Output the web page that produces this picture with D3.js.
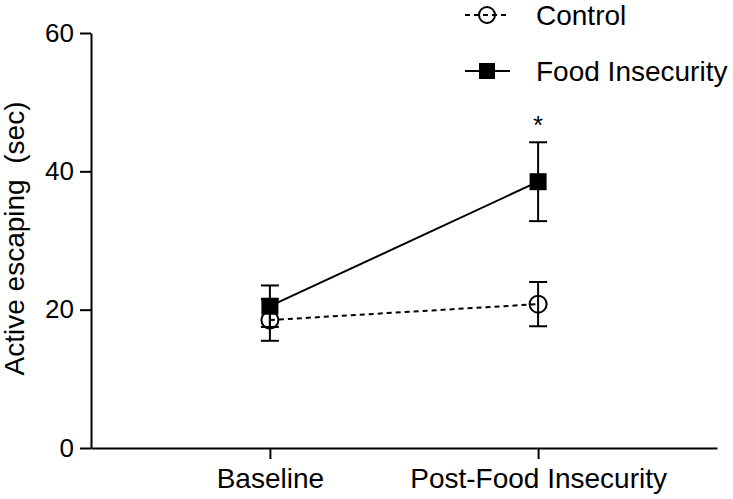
<!DOCTYPE html>
<html>
<head>
<meta charset="utf-8">
<script src="https://cdn.jsdelivr.net/npm/d3@7/dist/d3.min.js"></script>
<style>
  html, body { margin: 0; padding: 0; background: #fff; }
  svg { display: block; font-family: "Liberation Sans", Arial, sans-serif; }
</style>
</head>
<body>
<script>
const categories = ["Baseline", "Post-Food Insecurity"];
const controlMean = [18.5, 20.8];
const controlSEM = [3.0, 3.2];
const foodMean = [20.5, 38.5];
const foodSEM = [3.0, 5.7];
const yTicks = [0, 20, 40, 60];
const seriesNames = ["Control", "Food Insecurity"];
const significance = ["", "*"];

(function () {
const W = 733, H = 499;
const mLeft = 91, mRight = 717, mTop = 33, mBottom = 448;

const svg = d3.select("body").append("svg").attr("width", W).attr("height", H);

const x = d3.scalePoint().domain(categories).range([mLeft, mRight]).padding(0.667);
const y = d3.scaleLinear().domain([0, 60]).range([mBottom, mTop]);

// Y axis
const yAxis = svg.append("g").attr("transform", `translate(${mLeft},0)`)
  .call(d3.axisLeft(y).tickValues(yTicks).tickSize(11).tickSizeOuter(0).tickPadding(6));
yAxis.select(".domain").attr("stroke", "#000").attr("stroke-width", 2);
yAxis.selectAll(".tick line").attr("stroke", "#000").attr("stroke-width", 2);
yAxis.selectAll(".tick text").attr("font-size", 26).attr("fill", "#000")
  .attr("font-family", "Liberation Sans, Arial, sans-serif");

// X axis
const xAxis = svg.append("g").attr("transform", `translate(0,${mBottom})`)
  .call(d3.axisBottom(x).tickSize(11).tickSizeOuter(0).tickPadding(9));
xAxis.select(".domain").attr("stroke", "#000").attr("stroke-width", 2);
xAxis.selectAll(".tick line").attr("stroke", "#000").attr("stroke-width", 2);
xAxis.selectAll(".tick text").attr("font-size", 28).attr("fill", "#000")
  .attr("font-family", "Liberation Sans, Arial, sans-serif");

// Y title
svg.append("text")
  .attr("transform", `translate(24,${(mTop + mBottom) / 2 - 2}) rotate(-90)`)
  .attr("text-anchor", "middle")
  .attr("font-size", 28)
  .style("white-space", "pre")
  .text("Active escaping  (sec)");

const series = [
  { name: seriesNames[0], mean: controlMean, sem: controlSEM, dash: "5,4", marker: "circle" },
  { name: seriesNames[1], mean: foodMean, sem: foodSEM, dash: null, marker: "square" }
];

const capHalf = 9;
series.forEach(s => {
  const pts = categories.map((c, i) => ({ c, m: s.mean[i], e: s.sem[i] }));
  const eg = svg.append("g").attr("stroke", "#000").attr("stroke-width", 2);
  pts.forEach(p => {
    eg.append("line").attr("x1", x(p.c)).attr("x2", x(p.c)).attr("y1", y(p.m - p.e)).attr("y2", y(p.m + p.e));
    eg.append("line").attr("x1", x(p.c) - capHalf).attr("x2", x(p.c) + capHalf).attr("y1", y(p.m + p.e)).attr("y2", y(p.m + p.e));
    eg.append("line").attr("x1", x(p.c) - capHalf).attr("x2", x(p.c) + capHalf).attr("y1", y(p.m - p.e)).attr("y2", y(p.m - p.e));
  });
  svg.append("path").datum(pts)
    .attr("fill", "none").attr("stroke", "#000").attr("stroke-width", 2)
    .attr("stroke-dasharray", s.dash)
    .attr("d", d3.line().x(p => x(p.c)).y(p => y(p.m)));
  pts.forEach(p => {
    if (s.marker === "circle") {
      svg.append("circle").attr("cx", x(p.c)).attr("cy", y(p.m)).attr("r", 8.5)
        .attr("fill", "none").attr("stroke", "#000").attr("stroke-width", 2);
    } else {
      svg.append("rect").attr("x", x(p.c) - 8.5).attr("y", y(p.m) - 8.5)
        .attr("width", 17).attr("height", 17).attr("fill", "#000");
    }
  });
});

// significance
categories.forEach((c, i) => {
  if (significance[i]) {
    svg.append("text").attr("x", x(c)).attr("y", y(foodMean[i] + foodSEM[i]) - 8)
      .attr("text-anchor", "middle").attr("font-size", 26).text(significance[i]);
  }
});

// legend
const legend = svg.append("g");
const legY = [15, 71];
series.forEach((s, i) => {
  const g = legend.append("g").attr("transform", `translate(0,${legY[i]})`);
  g.append("line").attr("x1", 465).attr("x2", 510).attr("y1", 0).attr("y2", 0)
    .attr("stroke", "#000").attr("stroke-width", 2).attr("stroke-dasharray", s.dash);
  if (s.marker === "circle") {
    g.append("circle").attr("cx", 487).attr("cy", 0).attr("r", 8)
      .attr("fill", "none").attr("stroke", "#000").attr("stroke-width", 2);
  } else {
    g.append("rect").attr("x", 479).attr("y", -8).attr("width", 16).attr("height", 16).attr("fill", "#000");
  }
  g.append("text").attr("x", 536).attr("y", 10).attr("font-size", 28).text(s.name);
});
})();
</script>
</body>
</html>
